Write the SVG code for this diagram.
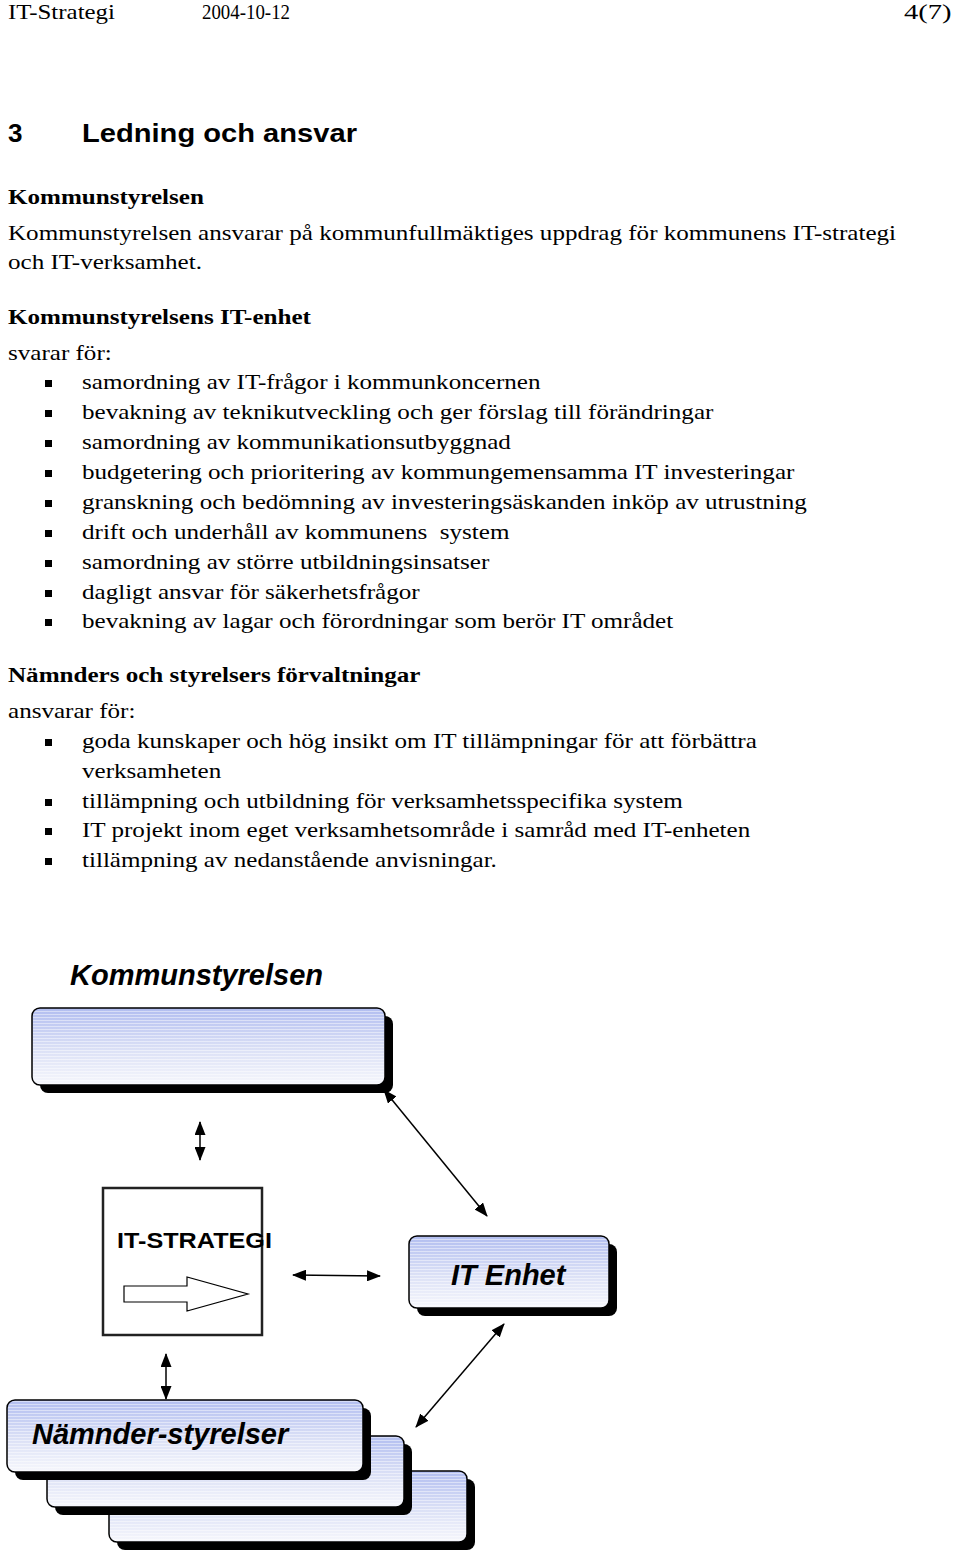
<svg xmlns="http://www.w3.org/2000/svg" width="960" height="1551" viewBox="0 0 960 1551">
<defs>
<style>
.hd{font-family:"Liberation Serif",serif;font-size:22px;fill:#000}
.t{font-family:"Liberation Serif",serif;font-size:22px;fill:#000}
.b{font-family:"Liberation Serif",serif;font-size:22px;font-weight:bold;fill:#000}
.h1{font-family:"Liberation Sans",Arial,sans-serif;font-size:26px;font-weight:bold;fill:#000}
.lbl{font-family:"Liberation Sans",Arial,sans-serif;font-size:29px;font-weight:bold;font-style:italic;fill:#000}
.shadow{fill:#000}
.conn{stroke:#000;stroke-width:1.5;fill:none;marker-start:url(#ah);marker-end:url(#ah)}
</style>
<linearGradient id="grad" x1="0" y1="0" x2="0" y2="1">
<stop offset="0" stop-color="#b2bef0"/>
<stop offset="0.55" stop-color="#dce1f6"/>
<stop offset="1" stop-color="#f6f7fc"/>
</linearGradient>
<pattern id="lines" width="4" height="3" patternUnits="userSpaceOnUse">
<rect width="4" height="1" fill="#ffffff" fill-opacity="0.45"/>
</pattern>
<marker id="ah" viewBox="0 0 14 11" refX="13" refY="5.5" markerWidth="14" markerHeight="11" markerUnits="userSpaceOnUse" orient="auto-start-reverse">
<path d="M0,0 L14,5.5 L0,11 Z" fill="#000"/>
</marker>
</defs>
<rect width="960" height="1551" fill="#fff"/>

<g id="header">
<text class="hd" x="8" y="19" textLength="107" lengthAdjust="spacingAndGlyphs">IT-Strategi</text>
<text class="hd" x="202" y="19" textLength="88" lengthAdjust="spacingAndGlyphs">2004-10-12</text>
<g transform="translate(904 0) scale(1.3 1)">
<text class="hd" x="0" y="19">4(7)</text>
</g>
</g>

<g id="body">
<text class="h1" x="8" y="142">3</text>
<g transform="translate(82 0) scale(1.12 1)">
<text class="h1" x="0" y="142">Ledning och ansvar</text>
</g>
<g transform="translate(8 0) scale(1.14 1)">
<text class="b" x="0" y="204">Kommunstyrelsen</text>
<text class="t" x="0" y="240">Kommunstyrelsen ansvarar på kommunfullmäktiges uppdrag för kommunens IT-strategi</text>
<text class="t" x="0" y="269">och IT-verksamhet.</text>
<text class="b" x="0" y="324">Kommunstyrelsens IT-enhet</text>
<text class="t" x="0" y="360">svarar för:</text>
<text class="b" x="0" y="682">Nämnders och styrelsers förvaltningar</text>
<text class="t" x="0" y="718">ansvarar för:</text>
</g>
<g fill="#000">
<rect x="45" y="380" width="7" height="7"/>
<rect x="45" y="410" width="7" height="7"/>
<rect x="45" y="440" width="7" height="7"/>
<rect x="45" y="470" width="7" height="7"/>
<rect x="45" y="500" width="7" height="7"/>
<rect x="45" y="530" width="7" height="7"/>
<rect x="45" y="560" width="7" height="7"/>
<rect x="45" y="590" width="7" height="7"/>
<rect x="45" y="619" width="7" height="7"/>
<rect x="45" y="739" width="7" height="7"/>
<rect x="45" y="799" width="7" height="7"/>
<rect x="45" y="828" width="7" height="7"/>
<rect x="45" y="858" width="7" height="7"/>
</g>
<g transform="translate(82 0) scale(1.14 1)">
<text class="t" x="0" y="389">samordning av IT-frågor i kommunkoncernen</text>
<text class="t" x="0" y="419">bevakning av teknikutveckling och ger förslag till förändringar</text>
<text class="t" x="0" y="449">samordning av kommunikationsutbyggnad</text>
<text class="t" x="0" y="479">budgetering och prioritering av kommungemensamma IT investeringar</text>
<text class="t" x="0" y="509">granskning och bedömning av investeringsäskanden inköp av utrustning</text>
<text class="t" x="0" y="539" xml:space="preserve">drift och underhåll av kommunens  system</text>
<text class="t" x="0" y="569">samordning av större utbildningsinsatser</text>
<text class="t" x="0" y="599">dagligt ansvar för säkerhetsfrågor</text>
<text class="t" x="0" y="628">bevakning av lagar och förordningar som berör IT området</text>
<text class="t" x="0" y="748">goda kunskaper och hög insikt om IT tillämpningar för att förbättra</text>
<text class="t" x="0" y="778">verksamheten</text>
<text class="t" x="0" y="808">tillämpning och utbildning för verksamhetsspecifika system</text>
<text class="t" x="0" y="837">IT projekt inom eget verksamhetsområde i samråd med IT-enheten</text>
<text class="t" x="0" y="867">tillämpning av nedanstående anvisningar.</text>
</g>
</g>

<g id="kommunstyrelsen">
<text class="lbl" x="70" y="985">Kommunstyrelsen</text>
<rect class="shadow" x="40" y="1016" width="353" height="77" rx="8"/>
<rect x="32" y="1008" width="353" height="77" rx="8" fill="url(#grad)" stroke="#000" stroke-width="1.5"/>
<rect x="33" y="1009" width="351" height="75" rx="7" fill="url(#lines)"/>
</g>

<g id="it-strategi">
<rect x="103" y="1188" width="159" height="147" fill="#fff" stroke="#222" stroke-width="2.5"/>
<text x="117" y="1248" font-family="Liberation Sans, Arial, sans-serif" font-size="22" font-weight="bold" textLength="155" lengthAdjust="spacingAndGlyphs">IT-STRATEGI</text>
<path d="M124,1286 L187,1286 L187,1277 L248,1294 L187,1311 L187,1302 L124,1302 Z" fill="#fff" stroke="#000" stroke-width="1.2"/>
</g>

<g id="it-enhet">
<rect class="shadow" x="417" y="1244" width="200" height="72" rx="8"/>
<rect x="409" y="1236" width="200" height="72" rx="8" fill="url(#grad)" stroke="#000" stroke-width="1.5"/>
<rect x="410" y="1237" width="198" height="70" rx="7" fill="url(#lines)"/>
<text class="lbl" x="451" y="1285" font-size="28">IT Enhet</text>
</g>

<g id="namnder">
<rect class="shadow" x="117" y="1479" width="358" height="71" rx="8"/>
<rect x="109" y="1471" width="358" height="71" rx="8" fill="url(#grad)" stroke="#000" stroke-width="1.5"/>
<rect x="110" y="1472" width="356" height="69" rx="7" fill="url(#lines)"/>
<rect class="shadow" x="55" y="1444" width="357" height="71" rx="8"/>
<rect x="47" y="1436" width="357" height="71" rx="8" fill="url(#grad)" stroke="#000" stroke-width="1.5"/>
<rect x="48" y="1437" width="355" height="69" rx="7" fill="url(#lines)"/>
<rect class="shadow" x="15" y="1408" width="356" height="72" rx="8"/>
<rect x="7" y="1400" width="356" height="72" rx="8" fill="url(#grad)" stroke="#000" stroke-width="1.5"/>
<rect x="8" y="1401" width="354" height="70" rx="7" fill="url(#lines)"/>
<text class="lbl" x="32" y="1444" font-size="28">Nämnder-styrelser</text>
</g>

<g id="connectors">
<line class="conn" x1="200" y1="1122" x2="200" y2="1160"/>
<line class="conn" x1="384" y1="1090" x2="487" y2="1216"/>
<line class="conn" x1="293" y1="1275" x2="380" y2="1276"/>
<line class="conn" x1="166" y1="1354" x2="166" y2="1399"/>
<line class="conn" x1="504" y1="1324" x2="416" y2="1427"/>
</g>
</svg>
